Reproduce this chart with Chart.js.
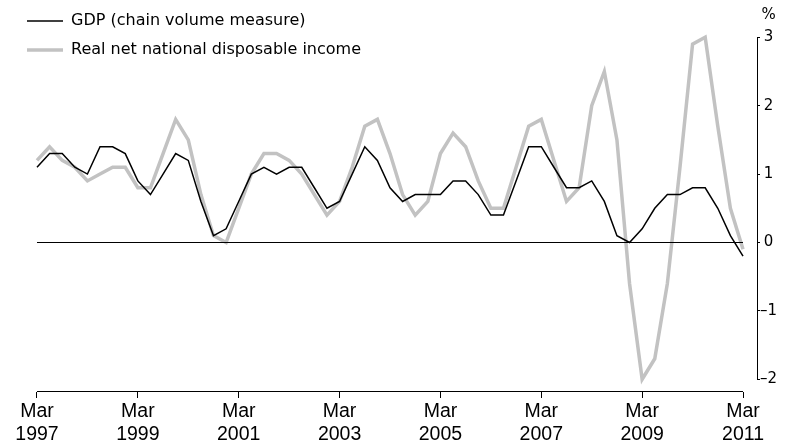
<!DOCTYPE html>
<html>
<head>
<meta charset="utf-8">
<script src="https://cdn.jsdelivr.net/npm/chart.js@4.4.1/dist/chart.umd.min.js"></script>
<style>
  html, body { margin: 0; padding: 0; background: #fff; }
</style>
</head>
<body>
<canvas id="growth-chart" width="794" height="446"></canvas>
<script>
// quarterly categories, Mar 1997 .. Mar 2011
const quarters = [];
for (let yr = 1997; yr <= 2011; yr++) {
  for (const m of ["Mar", "Jun", "Sep", "Dec"]) {
    if (yr === 2011 && m !== "Mar") break;
    quarters.push(m + " " + yr);
  }
}

const gdpGrowth = [
  1.1, 1.3, 1.3, 1.1, 1.0, 1.4, 1.4, 1.3, 0.9, 0.7,
  1.0, 1.3, 1.2, 0.6, 0.1, 0.2, 0.6, 1.0, 1.1, 1.0,
  1.1, 1.1, 0.8, 0.5, 0.6, 1.0, 1.4, 1.2, 0.8, 0.6,
  0.7, 0.7, 0.7, 0.9, 0.9, 0.7, 0.4, 0.4, 0.9, 1.4,
  1.4, 1.1, 0.8, 0.8, 0.9, 0.6, 0.1, 0.0, 0.2, 0.5,
  0.7, 0.7, 0.8, 0.8, 0.5, 0.1, -0.2
];

const incomeGrowth = [
  1.2, 1.4, 1.2, 1.1, 0.9, 1.0, 1.1, 1.1, 0.8, 0.8,
  1.3, 1.8, 1.5, 0.7, 0.1, 0.0, 0.5, 1.0, 1.3, 1.3,
  1.2, 1.0, 0.7, 0.4, 0.6, 1.1, 1.7, 1.8, 1.3, 0.7,
  0.4, 0.6, 1.3, 1.6, 1.4, 0.9, 0.5, 0.5, 1.1, 1.7,
  1.8, 1.2, 0.6, 0.8, 2.0, 2.5, 1.5, -0.6, -2.0, -1.7,
  -0.6, 1.1, 2.9, 3.0, 1.7, 0.5, -0.1
];

const seriesNames = ["GDP (chain volume measure)", "Real net national disposable income"];
const xTickLabels = ["Mar 1997", "Mar 1999", "Mar 2001", "Mar 2003", "Mar 2005", "Mar 2007", "Mar 2009", "Mar 2011"];
const yTicks = [-2, -1, 0, 1, 2, 3];
const unitLabel = "%";
const unitPos = 3.33;

const axisLines = {
  id: "axisLines",
  afterDatasetsDraw(chart) {
    const { ctx, chartArea, scales } = chart;
    const x = scales.x, y = scales.y;
    const xa = x.getPixelForValue(0);
    const xb = x.getPixelForValue(quarters.length - 1);
    ctx.save();
    ctx.strokeStyle = "#000";
    ctx.lineWidth = 1;

    // zero line
    const y0 = Math.round(y.getPixelForValue(0)) + 0.5;
    ctx.beginPath();
    ctx.moveTo(xa, y0);
    ctx.lineTo(xb, y0);
    ctx.stroke();

    // bottom axis
    const yb = Math.round(chartArea.bottom) - 0.5;
    ctx.beginPath();
    ctx.moveTo(xa, yb);
    ctx.lineTo(xb, yb);
    ctx.stroke();

    // right axis
    const xr = Math.round(y.left) + 0.5;
    ctx.beginPath();
    ctx.moveTo(xr, y.getPixelForValue(yTicks[yTicks.length - 1]));
    ctx.lineTo(xr, y.getPixelForValue(yTicks[0]) + 0.5);
    ctx.stroke();
    ctx.restore();
  }
};

new Chart(document.getElementById("growth-chart"), {
  type: "line",
  data: {
    labels: quarters,
    datasets: [
      {
        label: seriesNames[0],
        data: gdpGrowth.map((v, i) => ({ x: i, y: v })),
        borderColor: "#000",
        backgroundColor: "#000",
        borderWidth: 1.5,
        pointRadius: 0,
        tension: 0
      },
      {
        label: seriesNames[1],
        data: incomeGrowth.map((v, i) => ({ x: i, y: v })),
        borderColor: "#c2c2c2",
        backgroundColor: "#c2c2c2",
        borderWidth: 3.5,
        pointRadius: 0,
        tension: 0
      }
    ]
  },
  options: {
    responsive: false,
    animation: false,
    layout: { padding: { left: 14, top: 5, right: 0, bottom: 0 } },
    plugins: {
      tooltip: { enabled: false },
      legend: {
        position: "chartArea",
        align: "start",
        labels: {
          usePointStyle: true,
          pointStyle: "line",
          pointStyleWidth: 36,
          padding: 13,
          color: "#000",
          font: { family: "DejaVu Sans", size: 16 }
        }
      }
    },
    scales: {
      x: {
        type: "linear",
        min: -1.824,
        max: 57.11,
        afterBuildTicks: s => { s.ticks = xTickLabels.map(l => ({ value: quarters.indexOf(l) })); },
        afterFit: s => { s.height = 54; s.paddingLeft = 0; s.paddingRight = 0; },
        border: { display: false },
        grid: { drawOnChartArea: false, drawTicks: true, tickLength: 6, color: "#000" },
        ticks: {
          autoSkip: false,
          maxRotation: 0,
          padding: 2,
          color: "#000",
          font: { family: "Liberation Sans", size: 19.5, lineHeight: 1.2 },
          callback: v => quarters[v].split(" ")
        }
      },
      y: {
        position: "right",
        min: -2.186,
        max: 3.472,
        afterBuildTicks: s => { s.ticks = yTicks.concat([unitPos]).map(v => ({ value: v })); },
        afterFit: s => { s.width = 37; s.paddingTop = 0; s.paddingBottom = 0; },
        border: { display: false },
        grid: {
          drawOnChartArea: false,
          drawTicks: true,
          tickLength: 3,
          color: c => (c.tick && c.tick.value > 3 ? "rgba(0,0,0,0)" : "#000")
        },
        ticks: {
          crossAlign: "center",
          padding: 0,
          color: "#000",
          font: { family: "DejaVu Sans", size: 15 },
          callback: v => (v > 3 ? unitLabel : v < 0 ? "\u2013" + Math.abs(v) : String(v))
        }
      }
    }
  },
  plugins: [axisLines]
});
</script>
</body>
</html>
